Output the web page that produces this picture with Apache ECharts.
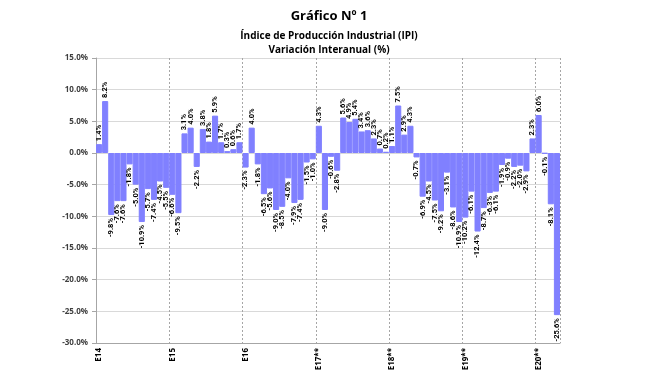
<!DOCTYPE html>
<html style="height: 100%">
<head>
    <meta charset="utf-8" />
    <title>Gráfico Nº 1</title>
    <script type="text/javascript" src="https://cdn.jsdelivr.net/npm/echarts@6/dist/echarts.min.js"></script>
</head>
<body style="height: 100%; margin: 0; background: #fff">
<div id="chart" style="width: 658px; height: 377px"></div>
<script type="text/javascript">
      // etiquetas de año (se muestran en enero)
      var yearLabels = ["E14", "E15", "E16", "E17**", "E18**", "E19**", "E20**"];
      var monthNames = ["Ene", "Feb", "Mar", "Abr", "May", "Jun", "Jul", "Ago", "Sep", "Oct", "Nov", "Dic"];

      // variación interanual (%) por año
      var v2014 = [1.4, 8.2, -9.8, -7.6, -7.6, -1.8, -5.0, -10.9, -5.7, -7.4, -4.5, -5.5];
      var v2015 = [-6.6, -9.5, 3.1, 4.0, -2.2, 3.8, 1.8, 5.9, 1.7, 0.3, 0.6, 1.7];
      var v2016 = [-2.3, 4.0, -1.8, -6.5, -5.6, -9.0, -8.5, -4.0, -7.9, -7.4, -1.5, -1.0];
      var v2017 = [4.3, -9.0, -0.6, -2.8, 5.6, 4.9, 5.4, 3.4, 3.6, 2.3, 0.7, 0.2];
      var v2018 = [1.1, 7.5, 2.9, 4.3, -0.7, -6.9, -4.5, -7.5, -9.2, -3.1, -8.6, -10.9];
      var v2019 = [-10.2, -6.1, -12.4, -8.7, -6.3, -6.1, -1.9, -0.9, -2.2, -2.0, -2.9, 2.3];
      var v2020 = [6.0, -0.1, -8.1, -25.6];

      var values = [].concat(v2014, v2015, v2016, v2017, v2018, v2019, v2020);

      var categories = [];
      yearLabels.forEach(function (y, i) {
        monthNames.forEach(function (m, j) {
          if (categories.length < values.length) {
            categories.push(j === 0 ? y : m + "-" + (14 + i));
          }
        });
      });

      var myChart = echarts.init(document.getElementById("chart"));

      var barData = values.map(function (v) {
        return {
          value: v,
          label: v < 0 ? { position: "bottom", align: "right" } : { position: "top", align: "left" }
        };
      });

      var titleStyle = { fontSize: 10, fontWeight: "bold", color: "#000", fontFamily: "Open Sans" };

      var option = {
        animation: false,
        textStyle: { fontFamily: "Open Sans" },
        title: [
          {
            text: "Gráfico Nº 1",
            left: "center", top: 5,
            textStyle: { fontSize: 13, fontWeight: "bold", color: "#000", fontFamily: "Open Sans" }
          },
          { text: "Índice de Producción Industrial (IPI)", left: "center", top: 26, textStyle: titleStyle },
          { text: "Variación Interanual (%)", left: "center", top: 40, textStyle: titleStyle }
        ],
        grid: { left: 96, right: 98, top: 58, bottom: 34 },
        xAxis: {
          type: "category",
          data: categories,
          position: "bottom",
          axisLine: { onZero: false, lineStyle: { color: "#a6a6a6" } },
          axisTick: { show: false },
          axisLabel: {
            interval: 0,
            rotate: 90,
            fontSize: 8,
            fontWeight: "bold",
            color: "#000",
            margin: 5,
            formatter: function (v) { return v.charAt(0) === "E" ? v : ""; }
          },
          splitLine: {
            show: true,
            interval: function (i) { return i % 12 === 0 && i > 0; },
            lineStyle: { color: "#a6a6a6", type: [2, 2], width: 1 }
          }
        },
        yAxis: {
          type: "value",
          min: -30, max: 15, interval: 5,
          axisLine: { show: true, lineStyle: { color: "#a6a6a6" } },
          axisTick: { show: true, length: 4, lineStyle: { color: "#a6a6a6" } },
          axisLabel: {
            fontSize: 8, fontWeight: "bold", color: "#404040", margin: 8,
            formatter: function (v) { return v.toFixed(1) + "%"; }
          },
          splitLine: { lineStyle: { color: "#d9d9d9" } }
        },
        series: [
          {
            type: "bar",
            data: barData,
            barCategoryGap: "0%",
            itemStyle: { color: "#8080ff", borderColor: "#8080ff", borderWidth: 1 },
            label: {
              show: true,
              rotate: 90,
              verticalAlign: "middle",
              distance: 3,
              fontSize: 7.5,
              fontWeight: "bold",
              color: "#000",
              fontFamily: "Roboto",
              formatter: function (p) { return p.value.toFixed(1) + "%"; }
            }
          }
        ]
      };
      myChart.setOption(option);
    </script>
</body>
</html>
